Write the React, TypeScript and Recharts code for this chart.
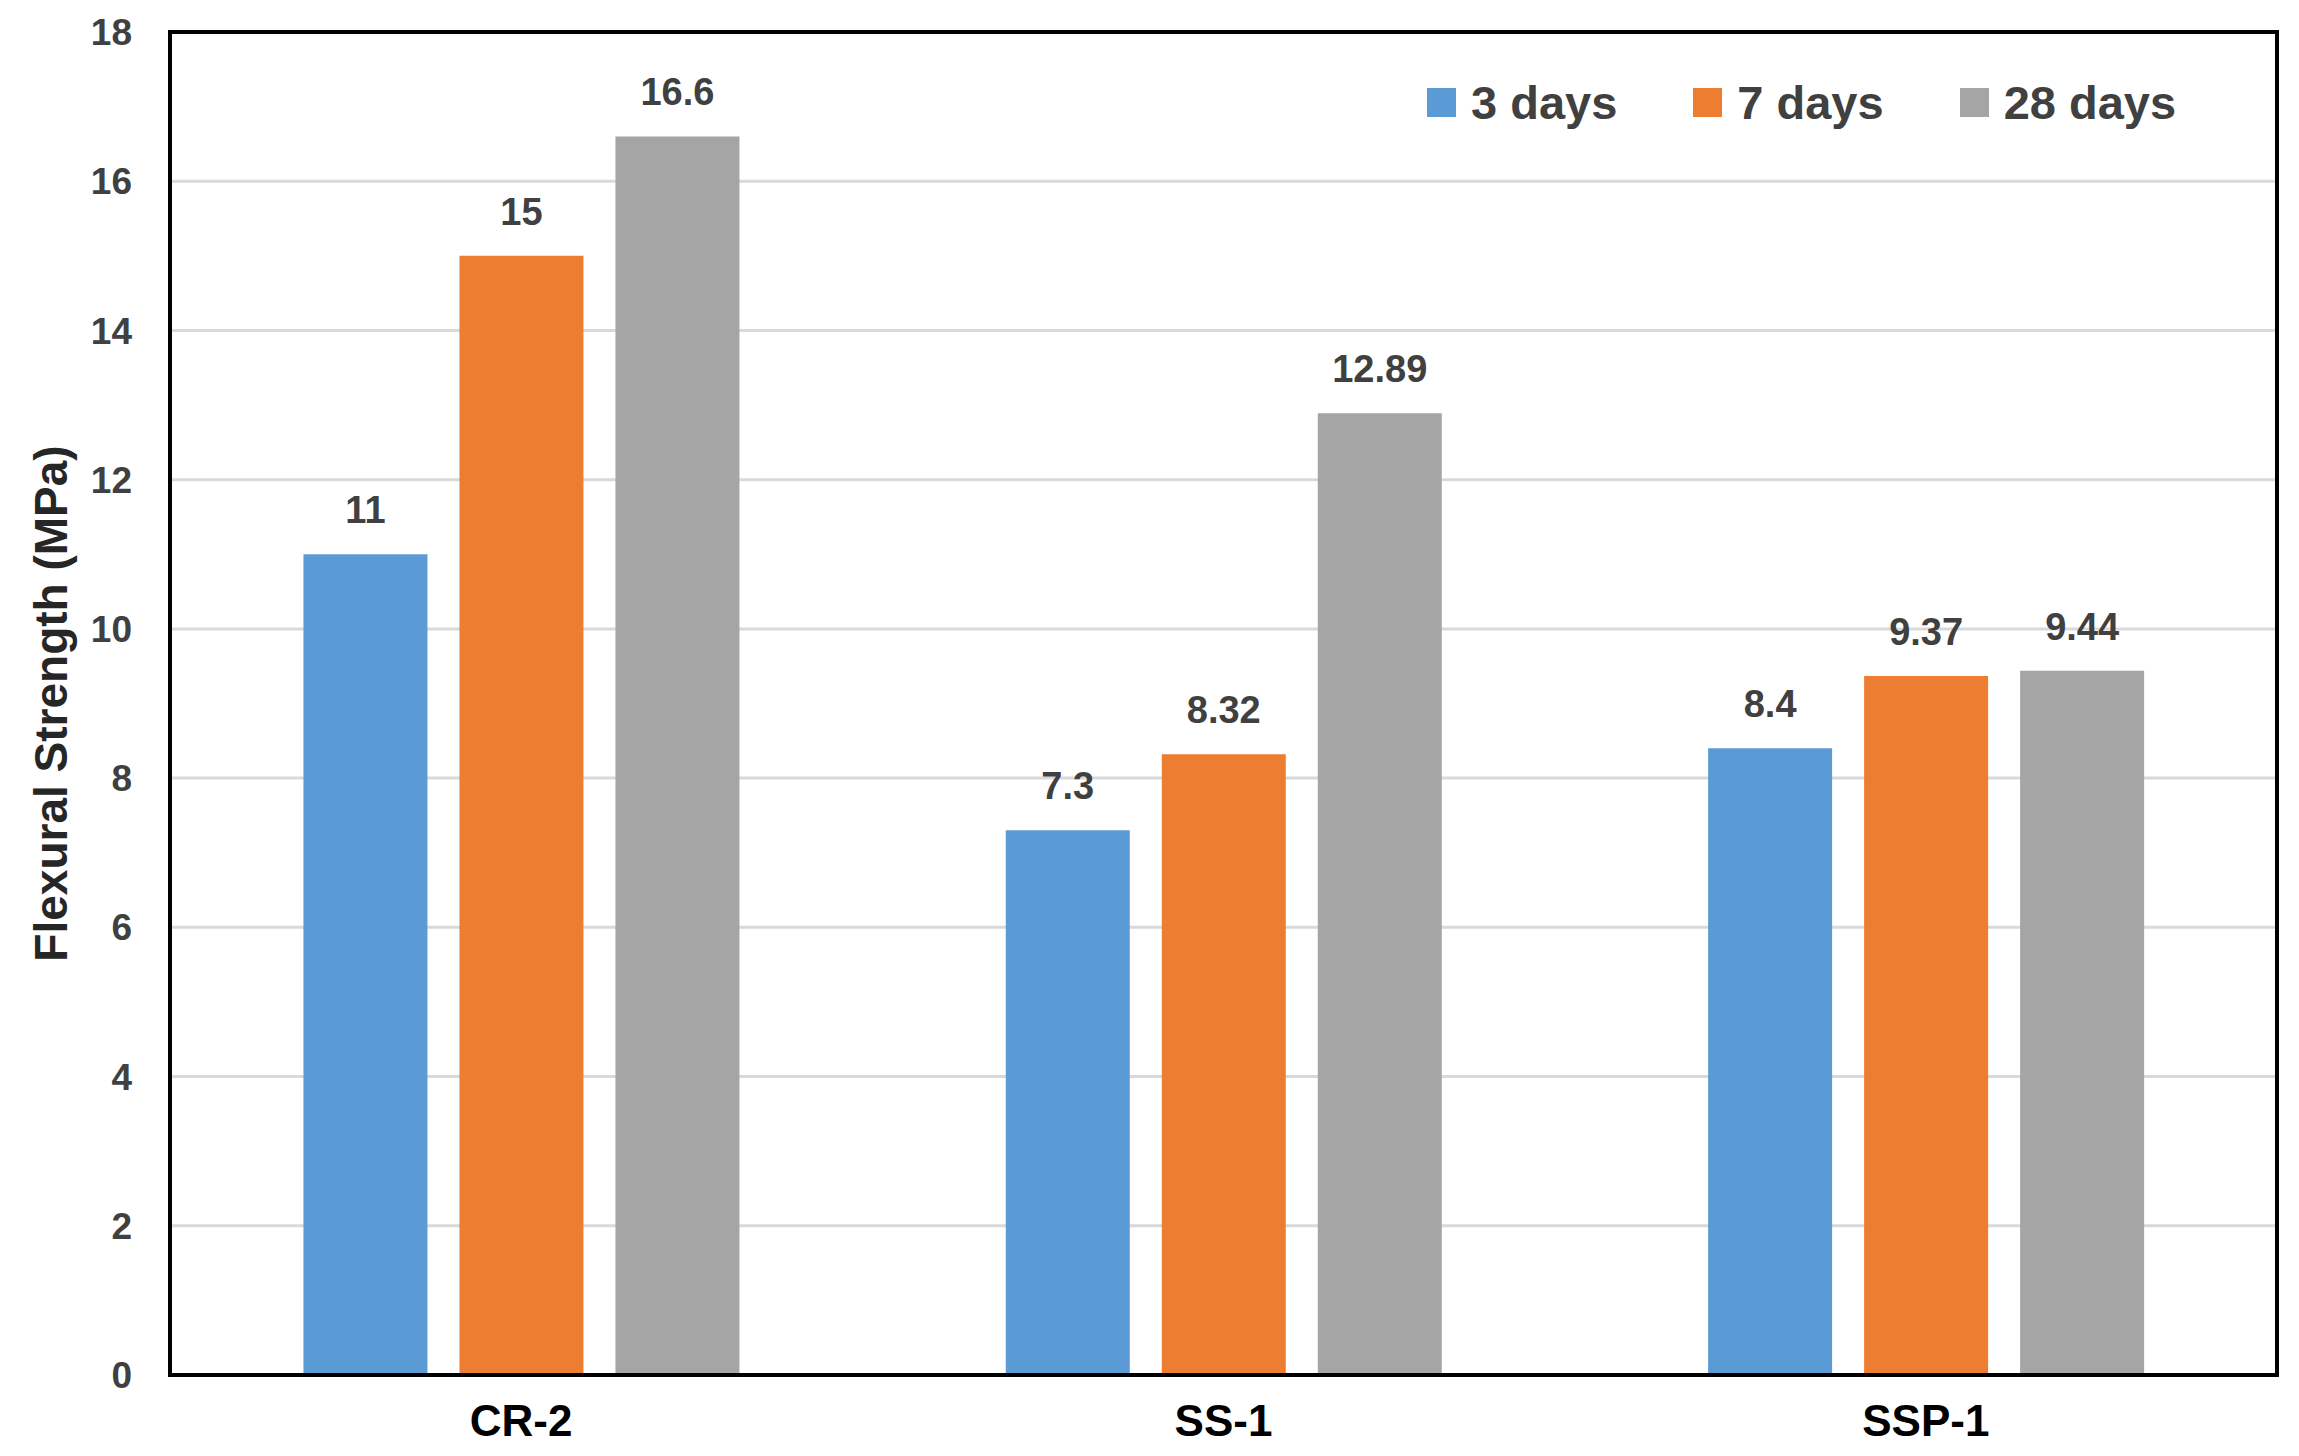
import React from "react";
import {
  BarChart,
  Bar,
  XAxis,
  YAxis,
  CartesianGrid,
  Legend,
  LabelList,
  ReferenceArea,
} from "recharts";

const categories = ["CR-2", "SS-1", "SSP-1"];
const days3 = [11, 7.3, 8.4];
const days7 = [15, 8.32, 9.37];
const days28 = [16.6, 12.89, 9.44];
const yTicks = [0, 2, 4, 6, 8, 10, 12, 14, 16, 18];

const series = [
  { key: "d3", name: "3 days", color: "#5B9BD5" },
  { key: "d7", name: "7 days", color: "#ED7D31" },
  { key: "d28", name: "28 days", color: "#A5A5A5" },
];

const data = categories.map((name, i) => ({
  name,
  d3: days3[i],
  d7: days7[i],
  d28: days28[i],
}));

const FONT = '"Liberation Sans", Arial, sans-serif';

const LegendContent = () => (
  <div style={{ display: "flex", alignItems: "center", fontFamily: FONT }}>
    {series.map((s, i) => (
      <div
        key={s.key}
        style={{ display: "flex", alignItems: "center", marginLeft: i === 0 ? 0 : 76 }}
      >
        <div style={{ width: 29, height: 29, background: s.color, marginRight: 15 }} />
        <span style={{ fontSize: 47, fontWeight: 700, color: "#404040", lineHeight: 1 }}>
          {s.name}
        </span>
      </div>
    ))}
  </div>
);

const AxisTitle = (props: any) => {
  const vb = props.viewBox || {};
  const x = (vb.x || 0) + 51;
  const y = (vb.y || 0) + (vb.height || 0) / 2;
  return (
    <text
      x={x}
      y={y}
      transform={`rotate(-90 ${x} ${y})`}
      textAnchor="middle"
      dominantBaseline="central"
      fill="#262626"
      fontSize={46}
      fontWeight={700}
      fontFamily={FONT}
    >
      Flexural Strength (MPa)
    </text>
  );
};

export default function App() {
  return (
    <div style={{ position: "absolute", left: 0, top: 0, background: "#fff" }}>
      <BarChart
        width={2299}
        height={1456}
        data={data}
        margin={{ top: 32, right: 22, left: 0, bottom: 0 }}
        barCategoryGap="19%"
        barGap={32}
      >
        <CartesianGrid vertical={false} stroke="#D9D9D9" strokeWidth={3} />
        <XAxis
          dataKey="name"
          height={81}
          tickLine={false}
          tickSize={0}
          tickMargin={30}
          axisLine={{ stroke: "#000", strokeWidth: 4 }}
          tick={{ fill: "#000", fontSize: 44, fontWeight: 700, fontFamily: FONT }}
        />
        <YAxis
          width={170}
          domain={[0, 18]}
          ticks={yTicks}
          interval={0}
          tickLine={false}
          tickSize={0}
          tickMargin={38}
          axisLine={{ stroke: "#000", strokeWidth: 4 }}
          tick={{ fill: "#404040", fontSize: 37, fontWeight: 700, fontFamily: FONT }}
          label={{ content: AxisTitle }}
        />
        <Legend
          layout="vertical"
          align="center"
          verticalAlign="middle"
          content={<LegendContent />}
          wrapperStyle={{ position: "absolute", top: 79, left: 1427, width: "auto" }}
        />
        {series.map((s) => (
          <Bar key={s.key} dataKey={s.key} name={s.name} fill={s.color} isAnimationActive={false}>
            <LabelList
              dataKey={s.key}
              position="top"
              offset={31}
              fill="#404040"
              fontSize={38}
              fontWeight={700}
              fontFamily={FONT}
            />
          </Bar>
        ))}
        <ReferenceArea
          y1={0}
          y2={18}
          fill="none"
          fillOpacity={0}
          stroke="#000"
          strokeWidth={4}
          ifOverflow="visible"
        />
      </BarChart>
    </div>
  );
}
